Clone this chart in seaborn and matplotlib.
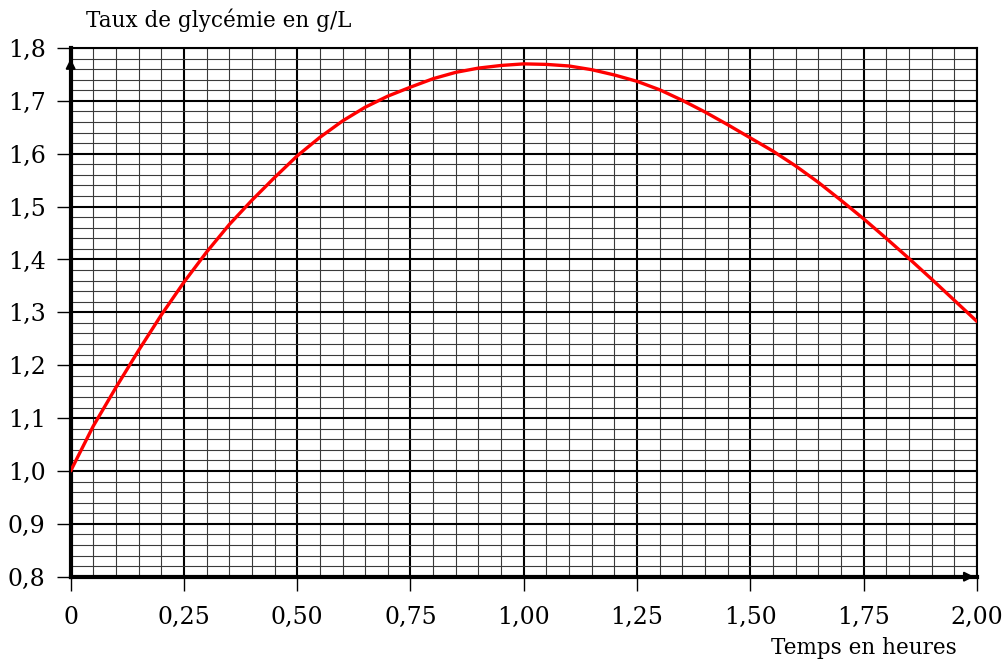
import numpy as np
import pandas as pd
import seaborn as sns
import matplotlib.pyplot as plt
from matplotlib.ticker import MultipleLocator

# values (every 0.05 h)
temps = [0, 0.05, 0.1, 0.15, 0.2, 0.25, 0.3, 0.35, 0.4, 0.45,
         0.5, 0.55, 0.6, 0.65, 0.7, 0.75, 0.8, 0.85, 0.9, 0.95,
         1.0, 1.05, 1.1, 1.15, 1.2, 1.25, 1.3, 1.35, 1.4, 1.45,
         1.5, 1.55, 1.6, 1.65, 1.7, 1.75, 1.8, 1.85, 1.9, 1.95, 2.0]
glycemie = [1.0, 1.085, 1.158, 1.228, 1.295, 1.357, 1.414, 1.466, 1.512, 1.555,
            1.596, 1.631, 1.662, 1.688, 1.709, 1.726, 1.742, 1.754, 1.762, 1.767,
            1.770, 1.769, 1.766, 1.759, 1.749, 1.737, 1.721, 1.701, 1.679, 1.655,
            1.630, 1.605, 1.577, 1.546, 1.512, 1.477, 1.440, 1.402, 1.363, 1.323, 1.283]

x_ticks = [0, 0.25, 0.5, 0.75, 1.0, 1.25, 1.5, 1.75, 2.0]
x_labels = ["0", "0,25", "0,50", "0,75", "1,00", "1,25", "1,50", "1,75", "2,00"]
y_ticks = [0.8, 0.9, 1.0, 1.1, 1.2, 1.3, 1.4, 1.5, 1.6, 1.7, 1.8]
y_labels = ["0,8", "0,9", "1,0", "1,1", "1,2", "1,3", "1,4", "1,5", "1,6", "1,7", "1,8"]

sns.set_theme(style="white")
plt.rcParams['font.family'] = ['DejaVu Serif']

df = pd.DataFrame({"t": temps, "g": glycemie})

fig = plt.figure(figsize=(10.05, 6.65), dpi=100)
ax = fig.add_axes([0.0703, 0.1328, 0.9017, 0.795])

# millimetre-paper style grid
ax.xaxis.set_minor_locator(MultipleLocator(0.05))
ax.yaxis.set_minor_locator(MultipleLocator(0.02))
ax.grid(which="minor", color="#3a3a3a", linewidth=0.8)
ax.grid(which="major", color="black", linewidth=1.5)
ax.set_axisbelow(True)

sns.lineplot(data=df, x="t", y="g", color="red", linewidth=2.4, ax=ax, zorder=5)

ax.set_xlim(0, 2)
ax.set_ylim(0.8, 1.8)
ax.set_xticks(x_ticks)
ax.set_xticklabels(x_labels)
ax.set_yticks(y_ticks)
ax.set_yticklabels(y_labels)
ax.set_xlabel("")
ax.set_ylabel("")
ax.tick_params(which="major", direction="out", length=10, width=1, color="black",
               labelsize=17, labelcolor="black", bottom=True, left=True)
ax.tick_params(axis="x", which="major", pad=11)
ax.tick_params(axis="y", which="major", pad=8)
ax.tick_params(which="minor", length=0)

for side in ["top", "right"]:
    ax.spines[side].set_color("black")
    ax.spines[side].set_linewidth(1.5)
for side in ["left", "bottom"]:
    ax.spines[side].set_color("black")
    ax.spines[side].set_linewidth(3)

# axis arrows
ax.annotate("", xy=(0, 0.985), xytext=(0, 0.9), xycoords="axes fraction",
            arrowprops=dict(arrowstyle="-|>", color="black", lw=1.5,
                            mutation_scale=14), annotation_clip=False)
ax.annotate("", xy=(1.0, 0), xytext=(0.96, 0), xycoords="axes fraction",
            arrowprops=dict(arrowstyle="-|>", color="black", lw=1.5,
                            mutation_scale=14), annotation_clip=False)

fig.text(0.0856, 0.959, "Taux de glycémie en g/L", fontsize=15.5, va="baseline",
         ha="left", color="black")
fig.text(0.952, 0.0165, "Temps en heures", fontsize=15.5, va="baseline",
         ha="right", color="black")

fig.savefig("out.png", dpi=100)
